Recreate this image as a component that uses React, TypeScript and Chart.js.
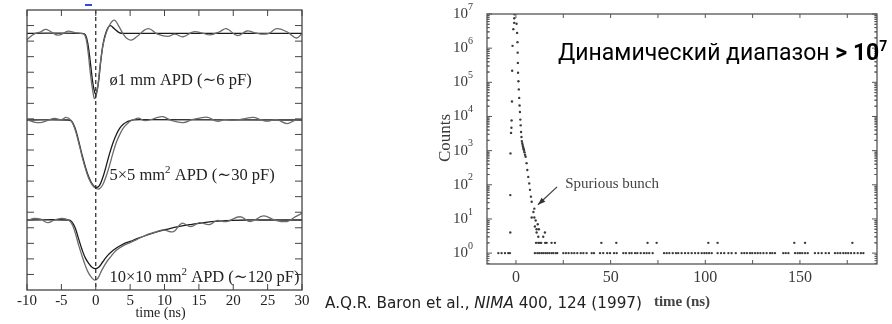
import React, { useEffect, useRef } from "react";
import { Chart, registerables } from "chart.js";
Chart.register(...registerables);

// ---------- Left panel: APD pulse shapes (time in ns, arbitrary vertical offset units) ----------
const T1_NOISY_X = [-10, -9, -8, -7.3, -6.5, -5.5, -4.5, -4, -3, -2.2, -1.6, -1.2, -0.8, -0.4, -0.15, 0.2, 0.6, 1.0, 1.5, 2.1, 2.7, 3.3, 4.0, 4.6, 5.2, 6.0, 7.6, 9.0, 10.5, 11.5, 12.7, 14.2, 15.5, 16.6, 18.0, 19.0, 20.6, 22.0, 23.0, 24.0, 25.2, 26.3, 27.8, 29.2, 30];
const T1_NOISY_Y = [16.1, 16.45, 16.6, 16.75, 16.6, 16.38, 16.55, 16.64, 16.55, 16.5, 16.4, 15.6, 14.0, 12.7, 12.3, 12.8, 14.3, 15.6, 16.5, 17.1, 17.35, 17.0, 16.45, 16.15, 16.07, 16.3, 16.8, 16.45, 16.3, 16.45, 16.28, 16.6, 16.52, 16.4, 16.6, 16.8, 16.36, 16.65, 16.55, 16.45, 16.5, 16.8, 16.6, 16.2, 16.5];
const T1_FIT_X = [-10, -2, -1.5, -1.1, -0.7, -0.35, 0, 0.35, 0.7, 1.1, 1.6, 2.1, 2.7, 3.4, 4.2, 30];
const T1_FIT_Y = [16.5, 16.5, 16.4, 15.7, 14.3, 13.1, 12.6, 13.2, 14.6, 15.9, 16.7, 17.0, 16.8, 16.55, 16.5, 16.5];

const T2_NOISY_X = [-10, -9, -8, -7, -6, -5, -4.3, -3.6, -3, -2.5, -2, -1.5, -1, -0.5, 0, 0.5, 1.0, 1.5, 2.0, 2.5, 3.0, 3.5, 4.0, 4.5, 5.0, 5.5, 6.2, 7.0, 8.0, 9.0, 9.8, 11.0, 12.7, 14.0, 15.1, 16.3, 17.6, 18.8, 20.0, 21.5, 22.9, 24.0, 24.9, 26.3, 27.8, 29.0, 30];
const T2_NOISY_Y = [10.95, 10.8, 10.76, 10.9, 11.03, 10.95, 11.1, 10.9, 10.3, 9.5, 8.6, 7.8, 7.15, 6.75, 6.55, 6.5, 6.75, 7.3, 8.0, 8.8, 9.5, 10.0, 10.4, 10.65, 10.85, 10.95, 11.05, 10.9, 10.95, 11.1, 11.14, 10.9, 10.76, 10.95, 11.05, 11.1, 10.85, 10.95, 10.9, 11.0, 11.1, 10.95, 10.85, 10.95, 10.7, 10.9, 10.95];
const T2_FIT_X = [-10, -4, -3.5, -3, -2.5, -2, -1.5, -1, -0.5, 0, 0.5, 1, 1.5, 2, 2.5, 3, 3.5, 4, 4.5, 5, 5.5, 6.5, 30];
const T2_FIT_Y = [10.93, 10.93, 10.85, 10.4, 9.6, 8.7, 7.9, 7.25, 6.8, 6.6, 6.7, 7.2, 7.95, 8.75, 9.45, 10.0, 10.4, 10.65, 10.8, 10.88, 10.93, 10.95, 10.93];

const T3_NOISY_X = [-10, -9, -8, -7, -6, -5, -4.3, -3.6, -3, -2.5, -2, -1.5, -1, -0.5, -0.15, 0.3, 0.8, 1.5, 2.2, 3.0, 4.0, 5.0, 6.0, 7.4, 8.5, 9.8, 11.3, 12.5, 13.8, 15.1, 16.5, 17.6, 19.0, 21.0, 22.5, 24.4, 26.0, 27.8, 29.0, 30];
const T3_NOISY_Y = [4.45, 4.6, 4.55, 4.33, 4.5, 4.6, 4.55, 4.35, 3.7, 2.9, 2.2, 1.55, 1.05, 0.75, 0.64, 0.75, 1.2, 1.75, 2.15, 2.55, 2.85, 3.05, 3.25, 3.55, 3.7, 3.86, 3.75, 4.29, 4.07, 4.33, 4.2, 4.46, 4.4, 4.71, 4.4, 4.76, 4.5, 4.4, 4.7, 4.93];
const T3_FIT_X = [-10, -4, -3.5, -3, -2.5, -2, -1.5, -1, -0.5, 0, 0.5, 1, 1.5, 2, 3, 4, 5, 6, 7.4, 9, 10.5, 12, 14, 16, 18, 20, 22, 25, 30];
const T3_FIT_Y = [4.5, 4.5, 4.4, 4.0, 3.3, 2.6, 2.05, 1.7, 1.45, 1.38, 1.5, 1.8, 2.1, 2.35, 2.7, 2.95, 3.12, 3.3, 3.52, 3.75, 3.92, 4.07, 4.22, 4.35, 4.43, 4.48, 4.5, 4.5, 4.5];

const LEFT_X_TICKS = [-10, -5, 0, 5, 10, 15, 20, 25, 30];
const LEFT_Y_TICKS = [1, 2, 3, 4, 5, 6, 7, 8, 9, 10, 11, 12, 13, 14, 15, 16, 17];
const APD_MAIN = ["ø1 mm APD (∼6 pF)", "5×5 mm", "10×10 mm"];
const APD_SUP = ["", "2", "2"];
const APD_REST = ["", " APD (∼30 pF)", " APD (∼120 pF)"];
const APD_LABEL_X = [2, 2, 2];
const APD_LABEL_Y = [13.17, 7.07, 0.51];

// ---------- Right panel: counts vs time (log scale) ----------
const RISE_X = [-3.0, -3.0, -2.9, -2.6, -2.4, -2.3, -2.1, -2.0, -1.8, -1.4, -0.95, -0.9, -0.85];
const RISE_Y = [4, 50, 830, 3300, 4700, 7600, 27500, 219000, 1.17e6, 3.6e6, 5.5e6, 7.5e6, 9.8e6];
const DECAY_X = [0.3, 0.6, 0.8, 0.9, 1.0, 1.1, 1.3, 1.5, 1.7, 1.9, 2.1, 2.3, 2.5, 2.7, 2.9, 3.1, 3.3, 3.5, 3.7, 3.9, 4.1, 4.3, 4.5, 4.8, 5.1, 5.6, 6.0, 6.5, 7.0, 7.4, 7.9, 8.3];
const DECAY_Y = [5.2e6, 2.8e6, 1.5e6, 7.4e5, 3.7e5, 1.9e5, 1.07e5, 6.2e4, 3.5e4, 2.1e4, 1.35e4, 8100, 5500, 3500, 2500, 1900, 1660, 1480, 1320, 1200, 1100, 1000, 890, 760, 660, 430, 270, 170, 110, 71, 45, 32];
const SPUR_X = [8.3, 9.2, 9.7, 9.7, 10.0, 10.4, 10.9, 11.5, 12.1, 10.9, 11.8, 14.4, 15.3];
const SPUR_Y = [11, 16, 20, 11, 6, 9, 5, 7, 5, 4, 3, 3, 4];
const TWO_X = [10.6, 11.8, 12.7, 13.3, 15.4, 16.2, 18.8, 20.6, 45.1, 53.0, 69.5, 74.3, 101.6, 106.5, 147.0, 152.7, 177.7];
const ONE_X = [-9.3, -7.6, -5.8, -4.1, -3.2,
  10.0, 11.3, 12.3, 13.4, 14.4, 15.5, 16.5, 17.6, 18.8, 19.7, 21.0, 21.8, 25.0, 26.4, 27.8, 29.4, 30.8, 32.4, 34.2, 35.6, 37.3, 40.0, 41.2, 44.4, 46.1, 48.2, 49.7, 51.8, 53.2, 56.7, 58.1, 59.9, 61.1, 62.9, 64.1, 65.9, 67.6, 69.0, 70.4, 72.2,
  78.2, 79.6, 81.0, 82.8, 84.5, 85.7, 87.5, 89.3, 91.0, 92.8, 94.6, 96.3, 98.1, 99.5, 100.7, 102.0, 103.4, 106.5, 108.3, 110.0, 112.2, 113.9, 116.1,
  119.2, 120.6, 122.0, 123.6, 124.8, 126.3, 127.7, 129.1, 130.7, 132.4, 134.2, 135.4, 136.8, 141.2, 142.5, 143.9, 147.4, 148.8, 150.0, 151.2, 152.7, 154.1,
  157.9, 159.7, 161.5, 163.6, 165.3, 168.5, 169.9, 171.3, 172.9, 174.2, 175.5, 177.0, 178.7, 180.5, 182.2, 183.5];

const RIGHT_X_TICKS = [0, 25, 50, 75, 100, 125, 150, 175];
const RIGHT_X_LABELS = [0, 50, 100, 150];
const RIGHT_Y_DECADES = [0, 1, 2, 3, 4, 5, 6, 7];
const RIGHT_Y_MINOR = [2, 3, 4, 5, 6, 7, 8, 9];
const SPUR_TEXT = "Spurious bunch";
const SPUR_TEXT_AT = [26, 105];
const ARROW_FROM = [21.7, 87];
const ARROW_TO = [11.6, 26];
const TITLE_MAIN = "Динамический диапазон ";
const TITLE_BOLD = "> 10";
const TITLE_SUP = "7";
const CITE_A = "A.Q.R. Baron et al., ";
const CITE_B = "NIMA";
const CITE_C = " 400, 124 (1997)";

const pts = (xs: number[], ys: number[]) => xs.map((x, i) => ({ x, y: ys[i] }));
const constPts = (xs: number[], v: number) => xs.map((x) => ({ x, y: v }));

const SERIF = "'Liberation Serif', 'DejaVu Serif', serif";

function drawRich(ctx: CanvasRenderingContext2D, x: number, y: number, parts: [string, string, number][]) {
  let cx = x;
  for (const [t, font, dy] of parts) {
    ctx.font = font;
    ctx.fillText(t, cx, y + dy);
    cx += ctx.measureText(t).width;
  }
  return cx - x;
}
function richWidth(ctx: CanvasRenderingContext2D, parts: [string, string, number][]) {
  let w = 0;
  for (const [t, font] of parts) {
    ctx.font = font;
    w += ctx.measureText(t).width;
  }
  return w;
}

const leftDecor = {
  id: "leftDecor",
  afterDraw(chart: any) {
    const { ctx, chartArea: a, scales } = chart;
    const x = scales.x, y = scales.y;
    ctx.save();
    // dashed zero line
    ctx.strokeStyle = "#222";
    ctx.lineWidth = 1.2;
    ctx.setLineDash([4, 3]);
    const x0 = x.getPixelForValue(0);
    ctx.beginPath();
    ctx.moveTo(x0, a.top);
    ctx.lineTo(x0, a.bottom);
    ctx.stroke();
    ctx.setLineDash([]);
    // frame
    ctx.strokeStyle = "#444";
    ctx.lineWidth = 1.3;
    ctx.strokeRect(a.left, a.top, a.right - a.left, a.bottom - a.top);
    // ticks
    ctx.lineWidth = 1;
    ctx.beginPath();
    for (const v of LEFT_X_TICKS) {
      const px = x.getPixelForValue(v);
      ctx.moveTo(px, a.bottom); ctx.lineTo(px, a.bottom - 6);
      ctx.moveTo(px, a.top); ctx.lineTo(px, a.top + 6);
    }
    for (const v of LEFT_Y_TICKS) {
      const py = y.getPixelForValue(v);
      ctx.moveTo(a.left, py); ctx.lineTo(a.left + 7, py);
      ctx.moveTo(a.right, py); ctx.lineTo(a.right - 7, py);
    }
    ctx.stroke();
    // tick labels
    ctx.fillStyle = "#222";
    ctx.textAlign = "center";
    ctx.textBaseline = "middle";
    ctx.font = `15px ${SERIF}`;
    for (const v of LEFT_X_TICKS) {
      ctx.fillText(String(v), x.getPixelForValue(v), a.bottom + 11);
    }
    ctx.font = `14px ${SERIF}`;
    ctx.fillText("time (ns)", (a.left + a.right) / 2 - 4, a.bottom + 23);
    // curve labels
    ctx.textAlign = "left";
    ctx.textBaseline = "alphabetic";
    const F = `16.5px ${SERIF}`;
    const FS = `11px ${SERIF}`;
    for (let i = 0; i < APD_MAIN.length; i++) {
      const parts: [string, string, number][] = [[APD_MAIN[i], F, 0]];
      if (APD_SUP[i]) parts.push([APD_SUP[i], FS, -7]);
      if (APD_REST[i]) parts.push([APD_REST[i], F, 0]);
      drawRich(ctx, x.getPixelForValue(APD_LABEL_X[i]), y.getPixelForValue(APD_LABEL_Y[i]), parts);
    }
    // small blue mark at the top (crop artifact)
    ctx.fillStyle = "#2a4de0";
    ctx.fillRect(85, 4, 7, 2);
    ctx.restore();
  },
};

const rightDecor = {
  id: "rightDecor",
  afterDraw(chart: any) {
    const { ctx, chartArea: a, scales } = chart;
    const x = scales.x, y = scales.y;
    ctx.save();
    ctx.strokeStyle = "#555";
    ctx.lineWidth = 1.3;
    ctx.strokeRect(a.left, a.top, a.right - a.left, a.bottom - a.top);
    ctx.lineWidth = 1;
    ctx.beginPath();
    for (const v of RIGHT_X_TICKS) {
      const px = x.getPixelForValue(v);
      ctx.moveTo(px, a.bottom); ctx.lineTo(px, a.bottom - 4);
      ctx.moveTo(px, a.top); ctx.lineTo(px, a.top + 4);
    }
    for (const d of RIGHT_Y_DECADES) {
      const py = y.getPixelForValue(Math.pow(10, d));
      ctx.moveTo(a.left, py); ctx.lineTo(a.left + 5, py);
      ctx.moveTo(a.right, py); ctx.lineTo(a.right - 5, py);
      for (const m of RIGHT_Y_MINOR) {
        for (const dd of [d - 1, d]) {
          const val = m * Math.pow(10, dd);
          if (val < y.min || val > y.max) continue;
          const pm = y.getPixelForValue(val);
          ctx.moveTo(a.left, pm); ctx.lineTo(a.left + 2.5, pm);
          ctx.moveTo(a.right, pm); ctx.lineTo(a.right - 2.5, pm);
        }
      }
    }
    ctx.stroke();

    ctx.fillStyle = "#3a3a3a";
    ctx.textBaseline = "middle";
    ctx.textAlign = "center";
    ctx.font = `16px ${SERIF}`;
    for (const v of RIGHT_X_LABELS) {
      ctx.fillText(String(v), x.getPixelForValue(v), a.bottom + 14);
    }
    ctx.font = `bold 15px ${SERIF}`;
    ctx.fillStyle = "#444";
    ctx.fillText("time (ns)", (a.left + a.right) / 2, a.bottom + 38);
    // y labels
    ctx.textAlign = "left";
    ctx.fillStyle = "#3a3a3a";
    for (const d of RIGHT_Y_DECADES) {
      const parts: [string, string, number][] = [["10", `15px ${SERIF}`, 0], [String(d), `10px ${SERIF}`, -7]];
      const w = richWidth(ctx, parts);
      drawRich(ctx, a.left - 14 - w, y.getPixelForValue(Math.pow(10, d)), parts);
    }
    // Counts
    ctx.save();
    ctx.translate(a.left - 41, 138);
    ctx.rotate(-Math.PI / 2);
    ctx.textAlign = "center";
    ctx.font = `17px ${SERIF}`;
    ctx.fillText("Counts", 0, 0);
    ctx.restore();
    // Spurious bunch annotation
    ctx.fillStyle = "#444";
    ctx.font = `15px ${SERIF}`;
    ctx.textAlign = "left";
    ctx.fillText(SPUR_TEXT, x.getPixelForValue(SPUR_TEXT_AT[0]), y.getPixelForValue(SPUR_TEXT_AT[1]));
    const fx = x.getPixelForValue(ARROW_FROM[0]), fy = y.getPixelForValue(ARROW_FROM[1]);
    const tx = x.getPixelForValue(ARROW_TO[0]), ty = y.getPixelForValue(ARROW_TO[1]);
    ctx.strokeStyle = "#444";
    ctx.lineWidth = 1.3;
    ctx.beginPath();
    ctx.moveTo(fx, fy);
    ctx.lineTo(tx, ty);
    ctx.stroke();
    const ang = Math.atan2(ty - fy, tx - fx);
    ctx.beginPath();
    ctx.moveTo(tx, ty);
    ctx.lineTo(tx - 8 * Math.cos(ang - 0.35), ty - 8 * Math.sin(ang - 0.35));
    ctx.lineTo(tx - 8 * Math.cos(ang + 0.35), ty - 8 * Math.sin(ang + 0.35));
    ctx.closePath();
    ctx.fillStyle = "#333";
    ctx.fill();
    // Russian title
    ctx.fillStyle = "#000";
    ctx.textBaseline = "alphabetic";
    drawRich(ctx, a.left + 71, a.top + 46, [
      [TITLE_MAIN, "23px Roboto", 0],
      [TITLE_BOLD, "bold 23px Roboto", 0],
      [TITLE_SUP, "bold 14px Roboto", -9],
    ]);
    // citation
    ctx.fillStyle = "#222";
    const cparts: [string, string, number][] = [
      [CITE_A, "16px 'DejaVu Sans'", 0],
      [CITE_B, "italic 16px 'DejaVu Sans'", 0],
      [CITE_C, "16px 'DejaVu Sans'", 0],
    ];
    const cw = richWidth(ctx, cparts);
    ctx.save();
    ctx.translate(5, 308);
    ctx.scale(317 / cw, 1);
    drawRich(ctx, 0, 0, cparts);
    ctx.restore();
    ctx.restore();
  },
};

export default function App() {
  const leftRef = useRef<HTMLCanvasElement>(null);
  const rightRef = useRef<HTMLCanvasElement>(null);
  useEffect(() => {
    const lineDs = (data: any, color: string, w: number) => ({
      data, borderColor: color, borderWidth: w, pointRadius: 0, tension: 0.4, fill: false,
    });
    const left = new Chart(leftRef.current!, {
      type: "line",
      data: {
        datasets: [
          lineDs(pts(T1_NOISY_X, T1_NOISY_Y), "#6b6b6b", 1.3),
          lineDs(pts(T1_FIT_X, T1_FIT_Y), "#1a1a1a", 1.3),
          lineDs(pts(T2_NOISY_X, T2_NOISY_Y), "#6b6b6b", 1.3),
          lineDs(pts(T2_FIT_X, T2_FIT_Y), "#1a1a1a", 1.3),
          lineDs(pts(T3_NOISY_X, T3_NOISY_Y), "#6b6b6b", 1.3),
          lineDs(pts(T3_FIT_X, T3_FIT_Y), "#1a1a1a", 1.3),
        ] as any,
      },
      options: {
        responsive: false,
        animation: false,
        events: [],
        layout: { padding: { left: 27, top: 10, right: 18, bottom: 34 } },
        plugins: { legend: { display: false }, tooltip: { enabled: false } },
        scales: {
          x: { type: "linear", min: -10, max: 30, display: false },
          y: { type: "linear", min: 0, max: 18, display: false },
        },
      },
      plugins: [leftDecor],
    });
    const dot = { pointRadius: 1.2, pointBorderWidth: 0, backgroundColor: "#3a3a3a", borderColor: "#3a3a3a", showLine: false };
    const right = new Chart(rightRef.current!, {
      type: "scatter",
      data: {
        datasets: [
          { data: pts(RISE_X, RISE_Y), ...dot },
          { data: pts(DECAY_X, DECAY_Y), ...dot },
          { data: pts(SPUR_X, SPUR_Y), ...dot },
          { data: constPts(TWO_X, 2), ...dot },
          { data: constPts(ONE_X, 1), ...dot },
        ] as any,
      },
      options: {
        responsive: false,
        animation: false,
        events: [],
        layout: { padding: { left: 167, top: 14, right: 15, bottom: 60 } },
        plugins: { legend: { display: false }, tooltip: { enabled: false } },
        scales: {
          x: { type: "linear", min: -15.3, max: 190.7, display: false },
          y: { type: "logarithmic", min: 0.48, max: 1e7, display: false },
        },
      },
      plugins: [rightDecor],
    });
    return () => {
      left.destroy();
      right.destroy();
    };
  }, []);
  return (
    <div style={{ position: "absolute", left: 0, top: 0, width: 892, height: 324, background: "#fff", overflow: "hidden" }}>
      <canvas ref={leftRef} width={320} height={324} style={{ position: "absolute", left: 0, top: 0 }} />
      <canvas ref={rightRef} width={572} height={324} style={{ position: "absolute", left: 320, top: 0 }} />
    </div>
  );
}
